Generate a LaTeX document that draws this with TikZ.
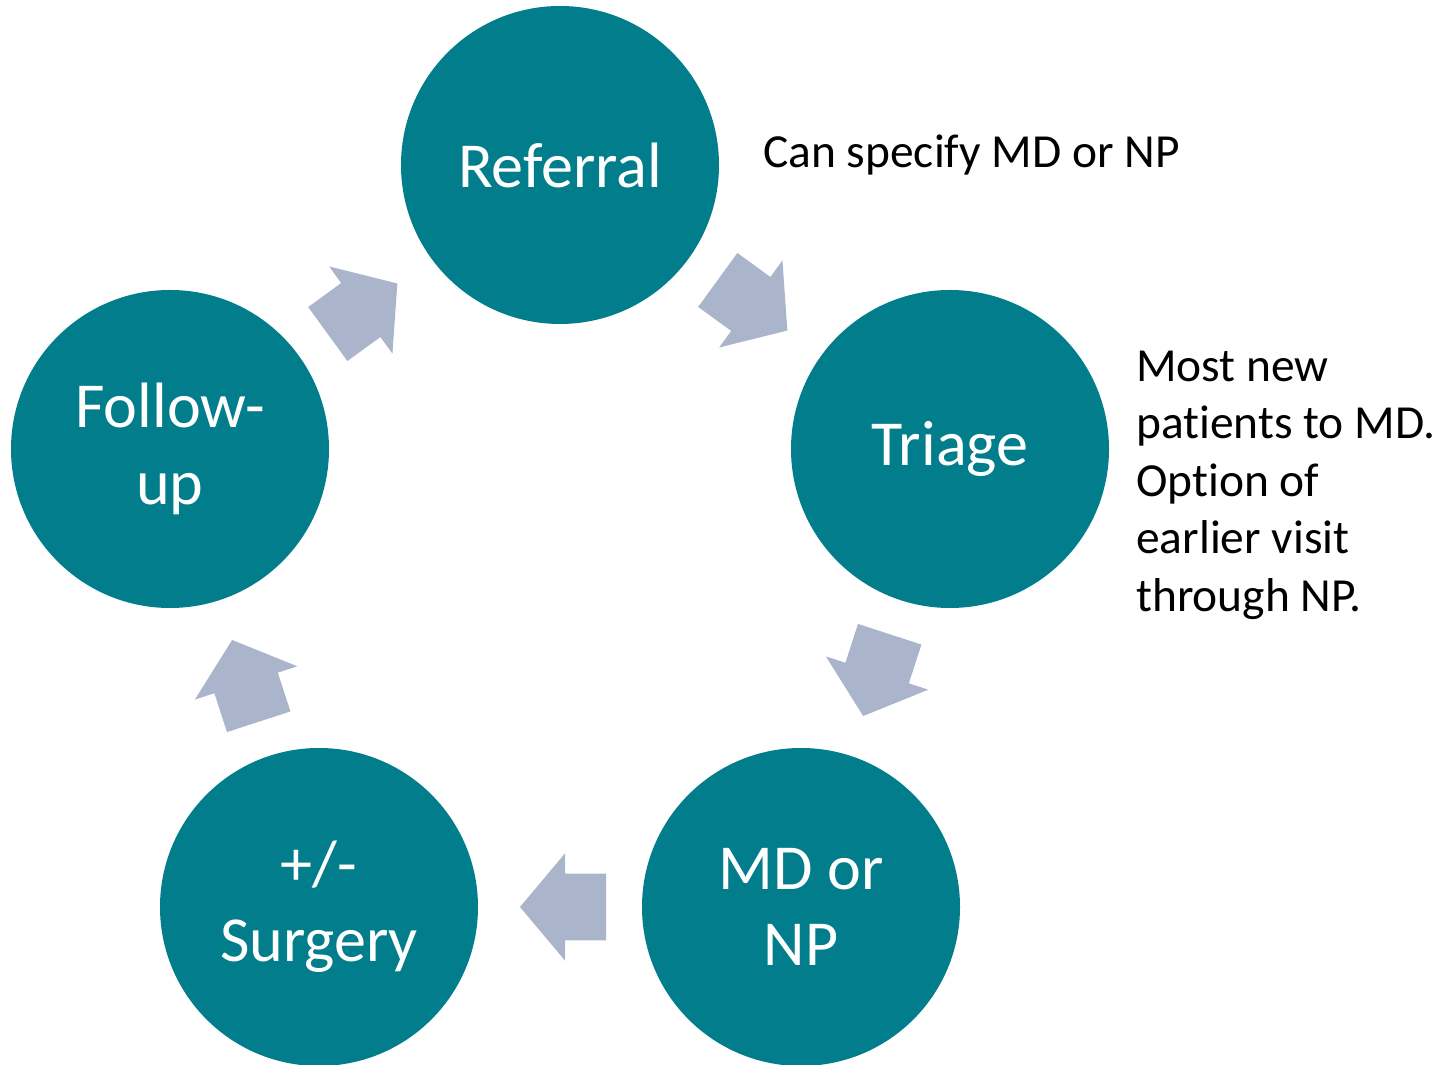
\documentclass[tikz,border=0pt]{standalone}
\usepackage{fontspec}
\setmainfont[Ligatures=NoCommon]{Carlito}
\usetikzlibrary{calc,shapes.arrows}
\definecolor{tealfill}{RGB}{1,125,139}
\definecolor{arrowfill}{RGB}{170,181,203}
\begin{document}
\begin{tikzpicture}[
    stepcircle/.style={circle, fill=tealfill, minimum size=6.36cm, inner sep=0pt,
      text=white, align=center, font=\fontsize{36.5}{43.5}\selectfont},
    cyclearrow/.style={single arrow, fill=arrowfill, minimum height=1.72cm,
      inner xsep=0pt, inner ysep=0.66cm, single arrow head extend=0.41cm,
      single arrow tip angle=100},
    note/.style={anchor=west, align=left, font=\fontsize{27}{32.7}\selectfont}
    ]
  \useasboundingbox (0,0) rectangle (29.12,21.3);
	\node [stepcircle] (ref) at (11.2,18.0) {Referral};
	\node [stepcircle] (tri) at (19.0,12.32) {Triage};
	\node [stepcircle] (mdnp) at (16.02,3.16) {MD or\\NP};
	\node [stepcircle] (surg) at (6.38,3.16) {+/-\\Surgery};
	\node [stepcircle] (fol) at (3.4,12.32) {Follow-\\up};
  % arrows between the steps
  \foreach \a/\b/\ang in {ref/tri/-36, tri/mdnp/-108, mdnp/surg/180, surg/fol/108, fol/ref/36}
    \node [cyclearrow, rotate=\ang, xshift=-0.34cm] at ($(\a)!0.5!(\b)$) {};
	\node [note] (refnote) at (15.14,18.2) {Can specify MD or NP};
	\node [note] (trinote) at (22.6,11.6) {Most new\\patients to MD.\\Option of\\earlier visit\\through NP.};
  \end{tikzpicture}
\end{document}
